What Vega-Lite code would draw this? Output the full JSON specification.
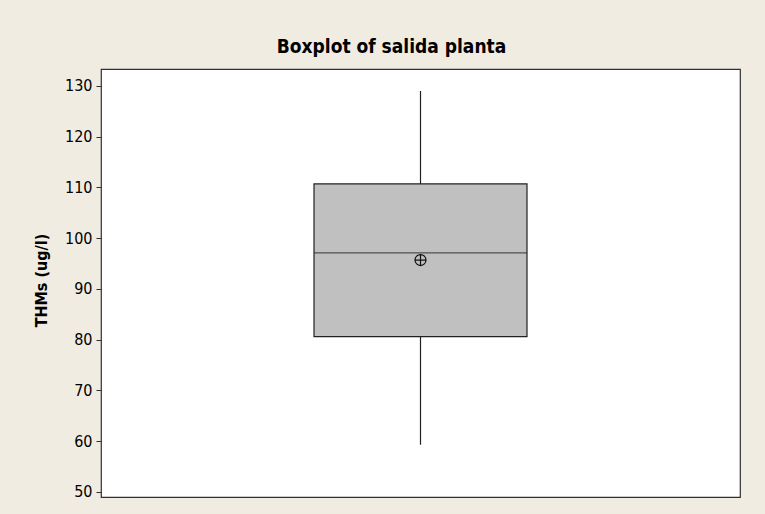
{
  "$schema": "https://vega.github.io/schema/vega-lite/v6.json",
  "width": 639,
  "height": 428,
  "autosize": "none",
  "padding": {"left": 101, "top": 69, "right": 25, "bottom": 17},
  "background": "#f0ece2",
  "config": {
    "view": {"fill": "white", "stroke": "#303030", "strokeWidth": 1.2},
    "font": "DejaVu Sans Condensed"
  },
  "title": {
    "text": "Boxplot of salida planta",
    "font": "DejaVu Sans Condensed",
    "fontSize": 19,
    "fontWeight": "bold",
    "color": "black",
    "anchor": "middle",
    "dx": -29,
    "offset": 12
  },
  "data": {
    "values": [
      {"group": "salida planta", "min": 59.3, "q1": 80.6, "median": 97.1, "q3": 110.7, "max": 129.0, "mean": 95.7}
    ]
  },
  "encoding": {
    "x": {"field": "group", "type": "nominal", "axis": null}
  },
  "layer": [
    {
      "mark": {"type": "rule", "color": "#202020", "strokeWidth": 1.2},
      "encoding": {
        "y": {
          "field": "min",
          "type": "quantitative",
          "scale": {"domain": [49, 133.35], "nice": false, "zero": false},
          "axis": {
            "title": "THMs (ug/l)",
            "titleFont": "DejaVu Sans Condensed",
            "titleFontSize": 16,
            "titleFontWeight": "bold",
            "titleColor": "black",
            "titlePadding": 15,
            "titleY": 211,
            "values": [50, 60, 70, 80, 90, 100, 110, 120, 130],
            "labelFont": "DejaVu Sans Condensed",
            "labelFontSize": 16,
            "labelColor": "black",
            "labelPadding": 4,
            "tickSize": 5,
            "tickColor": "#303030",
            "domain": false,
            "grid": false
          }
        },
        "y2": {"field": "max"}
      }
    },
    {
      "mark": {"type": "bar", "size": 213, "fill": "#c0c0c0", "stroke": "#202020", "strokeWidth": 1.2},
      "encoding": {
        "y": {"field": "q1", "type": "quantitative"},
        "y2": {"field": "q3"}
      }
    },
    {
      "mark": {"type": "tick", "size": 213, "thickness": 1.2, "color": "#202020"},
      "encoding": {
        "y": {"field": "median", "type": "quantitative"}
      }
    },
    {
      "mark": {
        "type": "point",
        "shape": "M -1 0 A 1 1 0 1 0 1 0 A 1 1 0 1 0 -1 0 Z M -1 0 L 1 0 M 0 -1 L 0 1",
        "size": 121,
        "filled": false,
        "stroke": "#101010",
        "strokeWidth": 1.2,
        "opacity": 1
      },
      "encoding": {
        "y": {"field": "mean", "type": "quantitative"}
      }
    }
  ]
}
